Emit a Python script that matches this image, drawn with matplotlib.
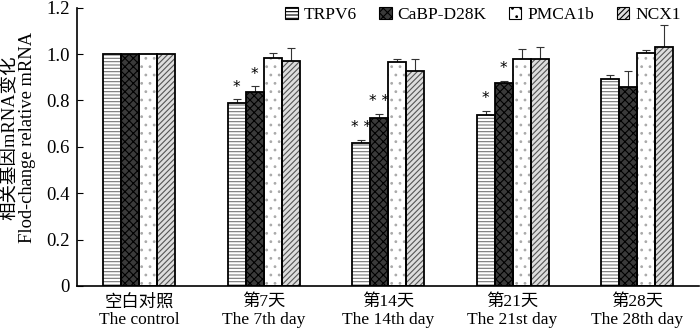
import matplotlib
matplotlib.use("Agg")
import matplotlib.pyplot as plt
import numpy as np
from matplotlib.patches import Patch

plt.rcParams['font.family'] = ['Liberation Serif', 'Noto Sans CJK SC']
plt.rcParams['hatch.linewidth'] = 0.8

categories = ["空白对照\nThe control", "第7天\nThe 7th day", "第14天\nThe 14th day",
              "第21天\nThe 21st day", "第28天\nThe 28th day"]
series = ["TRPV6", "CaBP-D28K", "PMCA1b", "NCX1"]
trpv6 = [1.0, 0.79, 0.617, 0.738, 0.894]
cabp = [1.0, 0.835, 0.725, 0.876, 0.859]
pmca = [1.0, 0.981, 0.967, 0.980, 1.003]
ncx1 = [1.0, 0.970, 0.927, 0.980, 1.029]
trpv6_err = [0, 0.015, 0.012, 0.016, 0.017]
cabp_err = [0, 0.025, 0.016, 0.009, 0.068]
pmca_err = [0, 0.024, 0.011, 0.040, 0.014]
ncx1_err = [0, 0.057, 0.053, 0.050, 0.096]
values = [trpv6, cabp, pmca, ncx1]
errors = [trpv6_err, cabp_err, pmca_err, ncx1_err]
# significance marks: (category index, series index, label)
marks = [(1, 0, "*"), (1, 1, "*"), (2, 0, "* *"), (2, 1, "* *"), (3, 0, "*"), (3, 1, "*")]

styles = [
    dict(facecolor="white", hatch="-----", hc="#777777"),
    dict(facecolor="#3a3a3a", hatch="xxxx", hc="#000000"),
    dict(facecolor="white", hatch="..", hc="#aaaaaa"),
    dict(facecolor="#dddddd", hatch="//////", hc="#555555"),
]

fig = plt.figure(figsize=(7.0, 3.31), dpi=100)
ax = fig.add_axes([0.110, 0.136, 0.889, 0.841])

x = np.arange(len(categories))
w = 0.145
for i, (vals, errs, st) in enumerate(zip(values, errors, styles)):
    pos = x + (i - 1.5) * w
    ax.bar(pos, vals, w, color=st["facecolor"], hatch=st["hatch"],
           edgecolor=st["hc"], linewidth=0, zorder=2)
    ax.bar(pos, vals, w, fill=False, edgecolor="black", linewidth=1.3, zorder=3)
    ax.errorbar(pos, vals, yerr=[np.zeros(len(vals)), errs], fmt="none",
                ecolor="#333333", elinewidth=0.8, capsize=3, capthick=0.8, zorder=1)

for ci, si, lab in marks:
    top = values[si][ci] + errors[si][ci]
    ax.text(ci + (si - 1.5) * w, top + 0.02, lab, ha="center", va="bottom",
            fontsize=11, family="DejaVu Sans", zorder=4)

ax.set_xlim(-0.5, 4.5)
ax.set_ylim(0, 1.2)
ax.set_yticks(np.arange(0, 1.21, 0.2))
ax.set_yticklabels(["0", "0.2", "0.4", "0.6", "0.8", "1.0", "1.2"])
ax.set_xticks(x)
ax.set_xticklabels(categories, fontsize=12.5, linespacing=1.1)
ax.tick_params(axis="x", length=0, pad=6)
ax.tick_params(axis="y", direction="in", length=4, labelsize=13.5, pad=5)
ax.spines["top"].set_visible(False)
ax.spines["right"].set_visible(False)
ax.spines["left"].set_linewidth(1.2)
ax.spines["bottom"].set_linewidth(1.2)

fig.text(0.027, 0.585, "相关基因mRNA变化\nFlod-change relative mRNA", rotation=90,
         ha="center", va="center", fontsize=13.3, linespacing=1.0)

handles = [Patch(facecolor=st["facecolor"], hatch=st["hatch"], edgecolor="black",
                 linewidth=0.8) for st in styles]
leg = ax.legend(handles, series, loc="upper right", bbox_to_anchor=(0.995, 1.06), ncol=4,
                frameon=False, fontsize=12.5, handlelength=0.7, handleheight=0.7,
                handletextpad=0.35, columnspacing=1.3)

fig.savefig("out.png", dpi=100)
